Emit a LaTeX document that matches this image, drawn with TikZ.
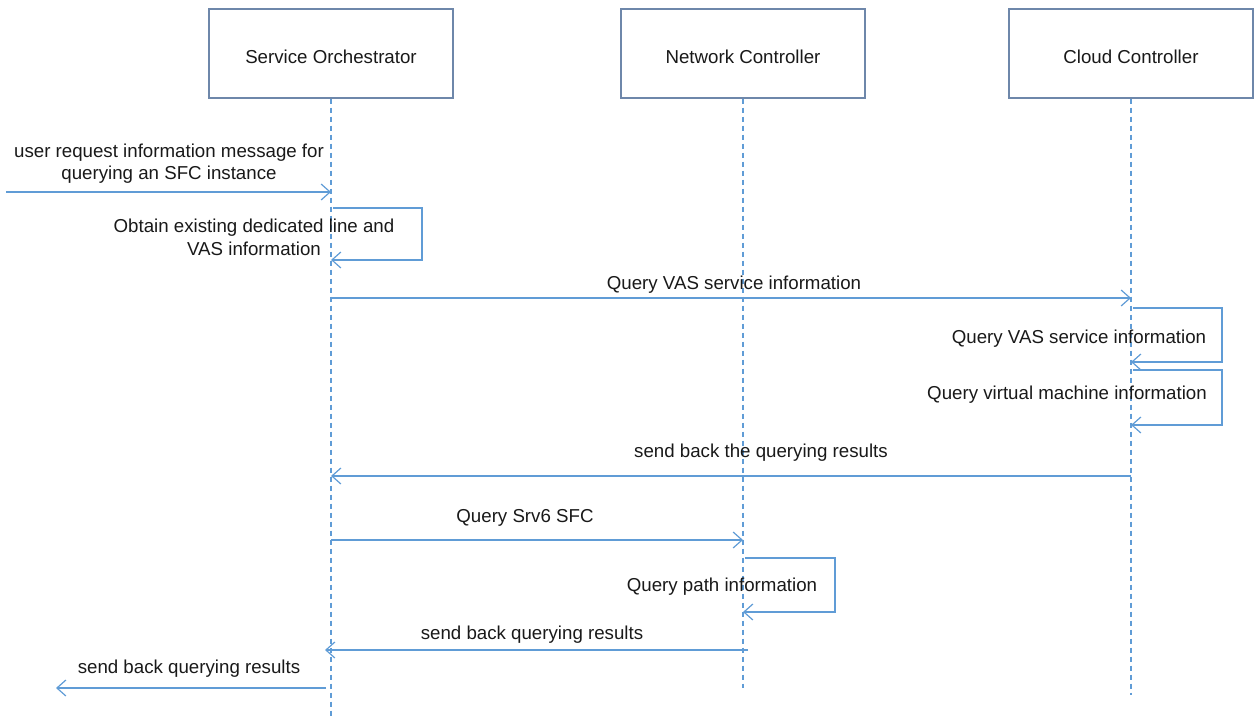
\documentclass[tikz,border=0pt]{standalone}
\usepackage{fontspec}
\setmainfont{Liberation Sans}
\usetikzlibrary{arrows.meta}
\definecolor{msgblue}{RGB}{96,156,214}
\definecolor{boxedge}{RGB}{110,135,170}
\definecolor{txtcol}{RGB}{25,25,25}
\begin{document}
\begin{tikzpicture}[x=1pt,y=-1pt,
  font=\fontsize{18.7}{22.5}\selectfont,
  actor/.style={draw=boxedge,line width=1.2pt,fill=white,minimum width=244pt,minimum height=89pt,
    text=txtcol,inner sep=0pt,text height=19pt,text depth=0pt},
  life/.style={draw=msgblue,line width=1.1pt,dash pattern=on 5pt off 4pt},
  msg/.style={draw=msgblue,line width=1.2pt,-{Straight Barb[length=9pt,width=16pt,line width=1.2pt]}},
  lbl/.style={text=txtcol,align=center,inner sep=0pt,yshift=-2.5pt}]
\useasboundingbox (0,0) rectangle (1254,720);

% participants
\node[actor] (so) at (331,53.5) {Service Orchestrator};
\node[actor] (nc) at (743,53.5) {Network Controller};
\node[actor] (cc) at (1131,53.5) {Cloud Controller};

% lifelines
\coordinate (so-end) at (331,718);
\coordinate (nc-end) at (743,688);
\coordinate (cc-end) at (1131,695);
\draw[life] (so.south) -- (so-end);
\draw[life] (nc.south) -- (nc-end);
\draw[life] (cc.south) -- (cc-end);

% message end points
\coordinate (user-in) at (6,192);
\coordinate (so-m1) at (331,192);
\coordinate (so-l1a) at (333,208);
\coordinate (so-l1b) at (331,260);
\coordinate (so-m2) at (331,298);
\coordinate (cc-m2) at (1131,298);
\coordinate (cc-l1a) at (1133,308);
\coordinate (cc-l1b) at (1131,362);
\coordinate (cc-l2a) at (1133,370);
\coordinate (cc-l2b) at (1131,425);
\coordinate (cc-m3) at (1131,476);
\coordinate (so-m3) at (331,476);
\coordinate (so-m4) at (331,540);
\coordinate (nc-m4) at (743,540);
\coordinate (nc-l1a) at (745,558);
\coordinate (nc-l1b) at (743,612);
\coordinate (nc-m5) at (748,650);
\coordinate (so-m5) at (325,650);
\coordinate (so-m6) at (326,688);
\coordinate (user-out) at (56,688);

% messages
\draw[msg] (user-in) -- (so-m1);
\node[lbl] (t1) at (169,161) {user request information message for\\querying an SFC instance};

\draw[msg] (so-l1a) -- ++(89,0) |- (so-l1b);
\node[lbl] (t2) at (254,235) {Obtain existing dedicated line and\\VAS information};

\draw[msg] (so-m2) -- (cc-m2);
\node[lbl] (t3) at (734,282) {Query VAS service information};

\draw[msg] (cc-l1a) -- ++(89,0) |- (cc-l1b);
\node[lbl] (t4) at (1079,336) {Query VAS service information};

\draw[msg] (cc-l2a) -- ++(89,0) |- (cc-l2b);
\node[lbl] (t5) at (1067,392) {Query virtual machine information};

\draw[msg] (cc-m3) -- (so-m3);
\node[lbl] (t6) at (761,450) {send back the querying results};

\draw[msg] (so-m4) -- (nc-m4);
\node[lbl] (t7) at (525,515) {Query Srv6 SFC};

\draw[msg] (nc-l1a) -- ++(90,0) |- (nc-l1b);
\node[lbl] (t8) at (722,584) {Query path information};

\draw[msg] (nc-m5) -- (so-m5);
\node[lbl] (t9) at (532,632) {send back querying results};

\draw[msg] (so-m6) -- (user-out);
\node[lbl] (t10) at (189,666) {send back querying results};
\end{tikzpicture}
\end{document}
